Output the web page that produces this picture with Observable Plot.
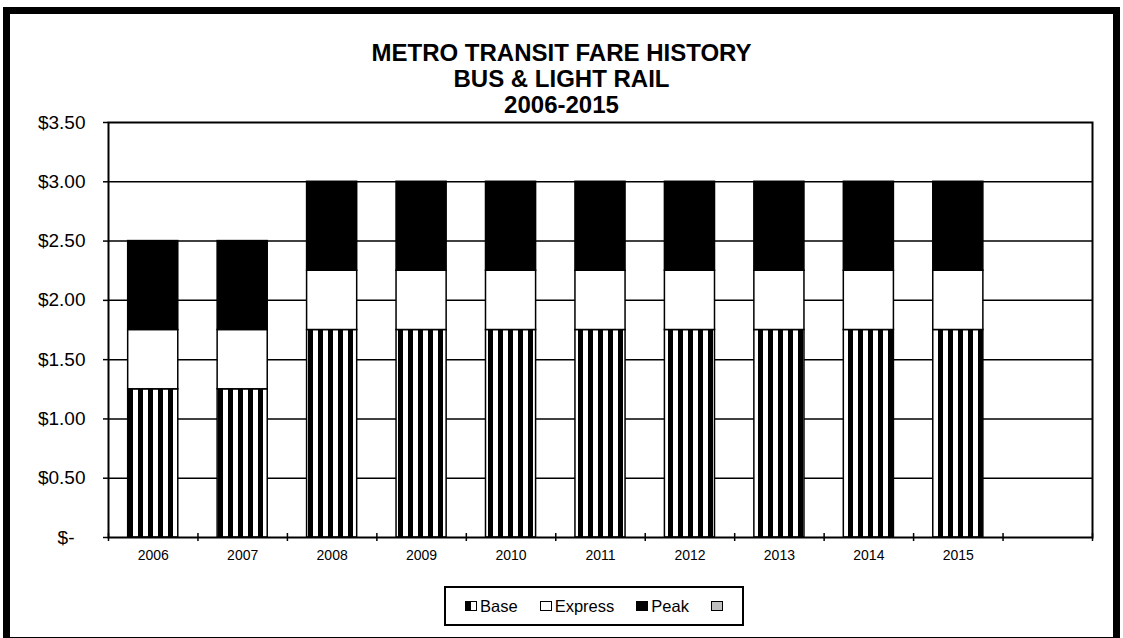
<!DOCTYPE html>
<html><head><meta charset="utf-8">
<script src="https://cdn.jsdelivr.net/npm/d3@7"></script>
<script src="https://cdn.jsdelivr.net/npm/@observablehq/plot@0.6"></script>
<style>
html,body{margin:0;padding:0;background:#fff;overflow:hidden;}
body{width:1123px;height:638px;position:relative;font-family:"Liberation Sans",Arial,Helvetica,sans-serif;color:#000;}
#frame{position:absolute;left:3px;top:7px;width:1117px;height:637px;box-sizing:border-box;border:7px solid #000;}
#title{position:absolute;left:0;top:40px;width:1123px;text-align:center;font-weight:bold;font-size:24px;line-height:26px;}
#chart{position:absolute;left:0;top:0;}
#legend{position:absolute;left:444px;top:586px;width:300px;height:40px;box-sizing:border-box;border:2px solid #000;display:flex;align-items:center;justify-content:center;font-size:16.5px;background:#fff;}
.item{display:flex;align-items:center;margin:0 11px;}
.sw{width:12px;height:10px;box-sizing:border-box;border:1.5px solid #000;margin-right:3px;}
</style>
</head><body>
<div id="frame"></div>
<div id="chart"></div>
<div id="title">METRO TRANSIT FARE HISTORY<br>BUS &amp; LIGHT RAIL<br>2006-2015</div>
<div id="legend"></div>
<script>
// ---- data ----
const years = ["2006","2007","2008","2009","2010","2011","2012","2013","2014","2015"];
const base = [1.25,1.25,1.75,1.75,1.75,1.75,1.75,1.75,1.75,1.75];
const express = [0.50,0.50,0.50,0.50,0.50,0.50,0.50,0.50,0.50,0.50];
const peak = [0.75,0.75,0.75,0.75,0.75,0.75,0.75,0.75,0.75,0.75];
const seriesNames = ["Base","Express","Peak"];
const yTicks = [0,0.5,1,1.5,2,2.5,3,3.5];
const yTickLabels = ["$-","$0.50","$1.00","$1.50","$2.00","$2.50","$3.00","$3.50"];
const slotCount = 11; // 10 years + one empty category slot

// ---- build stacked rows ----
const values = {Base: base, Express: express, Peak: peak};
const rows = years.flatMap((yr, i) => {
  let acc = 0;
  return seriesNames.map(s => {
    const v = values[s][i];
    const r = {i, year: yr, series: s, y1: acc, y2: acc + v};
    acc += v;
    return r;
  });
});

const pad = 0.22;
const fills = {Base: "url(#stripes)", Express: "#ffffff", Peak: "#000000"};

function stripesDefs() {
  const defs = d3.create("svg:defs");
  const p = defs.append("pattern").attr("id", "stripes")
    .attr("patternUnits", "userSpaceOnUse")
    .attr("x", 8).attr("y", 0).attr("width", 10).attr("height", 10);
  p.append("rect").attr("width", 10).attr("height", 10).attr("fill", "#fff");
  p.append("rect").attr("width", 5).attr("height", 10).attr("fill", "#000");
  return defs.node();
}

const chart = Plot.plot({
  width: 1123,
  height: 580,
  marginLeft: 108,
  marginRight: 31,
  marginTop: 122,
  marginBottom: 43,
  style: {fontFamily: '"Liberation Sans", Arial, sans-serif', background: "transparent", overflow: "visible", color: "#000"},
  x: {domain: [0, slotCount], axis: null},
  y: {domain: [0, 3.5], axis: null},
  marks: [
    stripesDefs,
    Plot.ruleY(yTicks.slice(1, -1), {stroke: "#000", strokeWidth: 1.5}),
    ...seriesNames.map(s => Plot.rect(rows.filter(d => d.series === s), {
      x1: d => d.i + pad, x2: d => d.i + 1 - pad, y1: "y1", y2: "y2",
      fill: fills[s], stroke: "#000", strokeWidth: 1.5
    })),
    Plot.frame({stroke: "#000", strokeWidth: 2}),
    Plot.ruleY(yTicks, {x1: 0, x2: 0, insetLeft: -5, stroke: "#000", strokeWidth: 1.5}),
    Plot.ruleX(d3.range(slotCount + 1), {y1: 0, y2: 0, insetTop: -4, insetBottom: -4, stroke: "#000", strokeWidth: 1.5}),
    Plot.text(yTicks.slice(1), {x: 0, y: d => d, text: d => yTickLabels[yTicks.indexOf(d)], textAnchor: "end", dx: -23, fontSize: 19, fill: "#000"}),
    Plot.text([yTicks[0]], {x: 0, y: d => d, text: d => yTickLabels[0], textAnchor: "end", dx: -34, fontSize: 19, fill: "#000"}),
    Plot.text(years, {x: (d, i) => i + 0.5, y: 0, text: d => d, dy: 18, fontSize: 14, textAnchor: "middle", fill: "#000"})
  ]
});
document.getElementById("chart").appendChild(chart);

// ---- legend ----
const swatchStyles = {
  Base: "background:linear-gradient(to right,#000 0 50%,#fff 50% 100%);",
  Express: "background:#fff;",
  Peak: "background:#000;"
};
const legend = document.getElementById("legend");
seriesNames.forEach(s => {
  const it = document.createElement("div");
  it.className = "item";
  it.innerHTML = `<span class="sw" style="${swatchStyles[s]}"></span><span>${s}</span>`;
  legend.appendChild(it);
});
const extra = document.createElement("div");
extra.className = "item";
extra.innerHTML = `<span class="sw" style="background:#c0c0c0;margin-right:0"></span>`;
legend.appendChild(extra);
</script>
</body></html>
